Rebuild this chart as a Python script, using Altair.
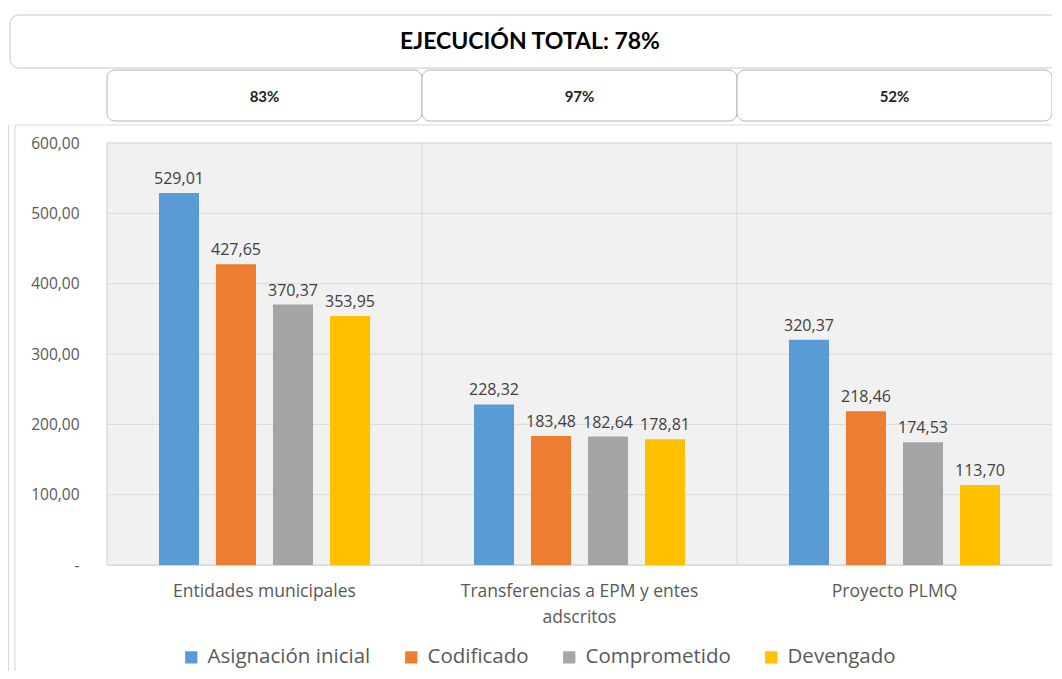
import altair as alt
import pandas as pd

categorias = ["Entidades municipales", "Transferencias a EPM y entes adscritos", "Proyecto PLMQ"]
series = ["Asignación inicial", "Codificado", "Comprometido", "Devengado"]
asignacion_inicial = [529.01, 228.32, 320.37]
codificado = [427.65, 183.48, 218.46]
comprometido = [370.37, 182.64, 174.53]
devengado = [353.95, 178.81, 113.70]
ejecucion = ["83%", "97%", "52%"]
titulo = "EJECUCIÓN TOTAL: 78%"
colores = ["#5B9BD5", "#ED7D31", "#A5A5A5", "#FFC000"]
y_ticks = [0, 100, 200, 300, 400, 500, 600]

rows = []
for serie, vals in zip(series, [asignacion_inicial, codificado, comprometido, devengado]):
    for c, v in zip(categorias, vals):
        rows.append({"categoria": c, "serie": serie, "valor": v})
df = pd.DataFrame(rows)
df_cat = pd.DataFrame({"categoria": categorias, "pct": ejecucion})
df_title = pd.DataFrame({"t": [titulo]})
df_ticks = pd.DataFrame({"v": y_ticks})

W, H = 945, 422
FONT = "Open Sans"
TXT = "#595959"

x_scale = alt.Scale(domain=categorias, paddingInner=0, paddingOuter=0)
label_expr = ("datum.label == 'Transferencias a EPM y entes adscritos' ? "
              "['Transferencias a EPM y entes', 'adscritos'] : datum.label")
x_axis = alt.Axis(title=None, labelExpr=label_expr, labelAngle=0, labelFontSize=17.5,
                  labelColor=TXT, labelFont=FONT, labelPadding=17, labelLineHeight=26,
                  labelLimit=500, ticks=False, grid=False, domainColor="#d9d9d9",
                  labelBaseline="top")
y_axis = alt.Axis(title=None, values=y_ticks,
                  labelExpr="datum.value == 0 ? '-' : replace(format(datum.value, '.2f'), '.', ',')",
                  labelFontSize=15.5, labelColor=TXT, labelFont=FONT, labelPadding=28,
                  ticks=False, domain=False, grid=False)
y_scale = alt.Scale(domain=[0, 600], nice=False)
off_scale = alt.Scale(domain=series, paddingInner=0.298, paddingOuter=0.912)

outer = alt.Chart(df_title).mark_rect(fill="white", fillOpacity=0, stroke="#d9d9d9", strokeWidth=1).encode(
    x=alt.value(-92), x2=alt.value(960), y=alt.value(-18), y2=alt.value(545))
outer_line = alt.Chart(df_title).mark_rule(color="#d9d9d9", strokeWidth=1).encode(
    x=alt.value(-98.5), y=alt.value(-18), y2=alt.value(545))

plot_bg = alt.Chart(df_title).mark_rect(fill="#f1f1f1", stroke="#e2e2e2", strokeWidth=1).encode(
    x=alt.value(0), x2=alt.value(W), y=alt.value(0), y2=alt.value(H))

grid = alt.Chart(df_ticks).mark_rule(color="#d9d9d9", strokeWidth=1).encode(
    y=alt.Y("v:Q", scale=y_scale, axis=y_axis),
    x=alt.value(0), x2=alt.value(W))

title_box = alt.Chart(df_title).mark_rect(fill="white", stroke="#c8c8c8", strokeWidth=1, cornerRadius=9).encode(
    x=alt.value(-97), x2=alt.value(955), y=alt.value(-128), y2=alt.value(-75))
title_text = alt.Chart(df_title).mark_text(font="Lato", fontSize=23, fontWeight="bold", color="#000000",
                                           align="center", baseline="middle").encode(
    x=alt.value(423), y=alt.value(-101), text="t:N")

sub_box = alt.Chart(df_cat).mark_rect(fill="white", stroke="#b4b4b4", strokeWidth=1, cornerRadius=8).encode(
    x=alt.X("categoria:N", scale=x_scale, sort=categorias, axis=x_axis),
    y=alt.value(-73), y2=alt.value(-22))
sub_text = alt.Chart(df_cat).mark_text(font="Lato", fontSize=15, fontWeight="bold", color="#222222",
                                       baseline="middle").encode(
    x=alt.X("categoria:N", scale=x_scale, sort=categorias),
    y=alt.value(-46), text="pct:N")

seps = alt.Chart(df_cat).mark_rule(color="#d9d9d9", strokeWidth=1).encode(
    x=alt.X("categoria:N", scale=x_scale, sort=categorias, bandPosition=0),
    y=alt.value(0), y2=alt.value(H))

bars = alt.Chart(df).mark_bar().encode(
    x=alt.X("categoria:N", scale=x_scale, sort=categorias, axis=x_axis),
    xOffset=alt.XOffset("serie:N", sort=series, scale=off_scale),
    y=alt.Y("valor:Q", scale=y_scale, axis=y_axis),
    color=alt.Color("serie:N", sort=series, scale=alt.Scale(domain=series, range=colores),
                    legend=alt.Legend(title=None, orient="none", legendX=74, legendY=504,
                                      direction="horizontal", symbolType="square", symbolSize=150,
                                      symbolStrokeWidth=0, labelFontSize=20.5, labelColor=TXT,
                                      labelFont=FONT, labelOffset=6, columnPadding=30,
                                      labelLimit=400)),
)
labels = alt.Chart(df).transform_calculate(
    lab="replace(format(datum.valor, '.2f'), '.', ',')"
).mark_text(font=FONT, fontSize=16, color="#404040", baseline="bottom", dy=-6).encode(
    x=alt.X("categoria:N", scale=x_scale, sort=categorias),
    xOffset=alt.XOffset("serie:N", sort=series, scale=off_scale),
    y=alt.Y("valor:Q", scale=y_scale),
    text="lab:N",
)

chart = alt.layer(outer, outer_line, plot_bg, grid, title_box, title_text, sub_box, sub_text,
                  seps, bars, labels).properties(
    width=W, height=H,
    autosize=alt.AutoSizeParams(type="none"),
    padding={"left": 99, "top": 135, "right": 0, "bottom": 106},
).configure_view(stroke="transparent").configure(background="white")

chart.save("out.html", embed_options={"renderer": "svg", "actions": False})
